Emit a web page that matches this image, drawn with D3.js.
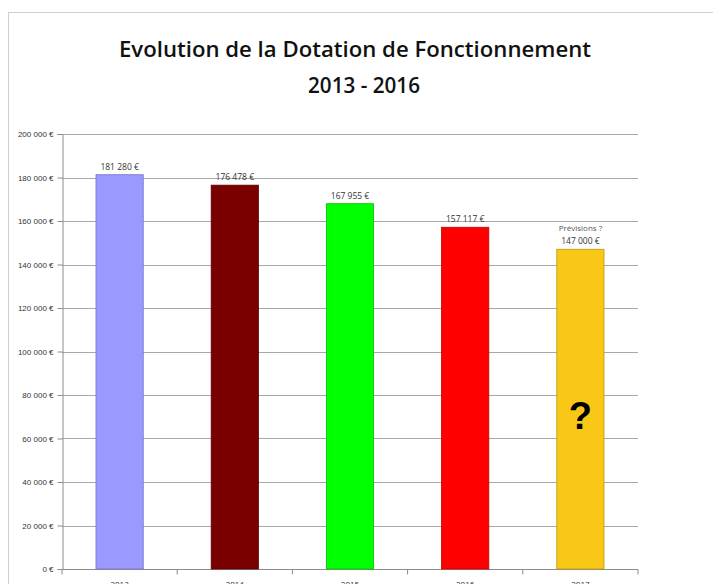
<!DOCTYPE html>
<html>
<head>
<meta charset="utf-8">
<script src="https://cdn.jsdelivr.net/npm/d3@7"></script>
<style>
  body { margin: 0; background: #fff; }
  svg { display: block; font-family: "Open Sans", sans-serif; }
</style>
</head>
<body>
<svg id="chart" width="713" height="584"></svg>
<script>
const years = ['2013', '2014', '2015', '2016', '2017'];
const values = [181280, 176478, 167955, 157117, 147000];
const colors = ['#9999ff', '#7a0000', '#00ff00', '#ff0000', '#f9c817'];
const yTicks = [0, 20000, 40000, 60000, 80000, 100000, 120000, 140000, 160000, 180000, 200000];

const fr = d3.formatLocale({ decimal: ',', thousands: '\u00a0', grouping: [3], currency: ['', '\u00a0€'] });
const euro = fr.format('$,');

const svg = d3.select('#chart');
const plot = { left: 62, right: 638, top: 134, bottom: 569 };

// frame around the chart
svg.append('rect')
  .attr('x', 8.5).attr('y', 12.5)
  .attr('width', 760).attr('height', 640)
  .attr('fill', 'none')
  .attr('stroke', '#cfcfcf');

svg.append('text')
  .attr('x', 355).attr('y', 57)
  .attr('text-anchor', 'middle')
  .attr('font-size', 21).attr('font-weight', 600)
  .attr('textLength', 472).attr('lengthAdjust', 'spacingAndGlyphs')
  .attr('fill', '#111')
  .text('Evolution de la Dotation de Fonctionnement');

svg.append('text')
  .attr('x', 364).attr('y', 93)
  .attr('text-anchor', 'middle')
  .attr('font-size', 21).attr('font-weight', 600)
  .attr('textLength', 112).attr('lengthAdjust', 'spacingAndGlyphs')
  .attr('fill', '#111')
  .text('2013 - 2016');

const x = d3.scaleBand()
  .domain(years)
  .range([plot.left, plot.right])
  .paddingInner(0.59)
  .paddingOuter(0.295);

const y = d3.scaleLinear()
  .domain([0, 200000])
  .range([plot.bottom, plot.top]);

// gridlines
svg.append('g')
  .selectAll('line')
  .data(yTicks.slice(1))
  .join('line')
  .attr('x1', plot.left).attr('x2', plot.right)
  .attr('y1', d => Math.round(y(d)) + 0.5).attr('y2', d => Math.round(y(d)) + 0.5)
  .attr('stroke', '#a8a8a8');

// y axis
const yAxis = svg.append('g')
  .attr('transform', `translate(${plot.left + 0.5},0)`)
  .call(d3.axisLeft(y).tickValues(yTicks).tickFormat(euro).tickSize(5).tickPadding(4));
yAxis.select('.domain').attr('stroke', '#8c8c8c');
yAxis.selectAll('.tick line').attr('stroke', '#8c8c8c');
yAxis.selectAll('text').attr('font-size', 8).attr('fill', '#333');

// x axis with ticks between categories
const xAxis = svg.append('g')
  .attr('transform', `translate(0,${plot.bottom + 0.5})`);
xAxis.append('line')
  .attr('x1', plot.left).attr('x2', plot.right)
  .attr('stroke', '#8c8c8c');
const step = x.step();
xAxis.selectAll('.sep')
  .data(d3.range(years.length + 1))
  .join('line')
  .attr('class', 'sep')
  .attr('x1', i => plot.left + i * step).attr('x2', i => plot.left + i * step)
  .attr('y1', 0).attr('y2', 5)
  .attr('stroke', '#8c8c8c');
xAxis.selectAll('text')
  .data(years)
  .join('text')
  .attr('x', d => x(d) + x.bandwidth() / 2)
  .attr('y', 17)
  .attr('text-anchor', 'middle')
  .attr('font-size', 8)
  .attr('fill', '#333')
  .text(d => d);

// bars
svg.append('g')
  .selectAll('rect')
  .data(years)
  .join('rect')
  .attr('x', d => x(d))
  .attr('y', (d, i) => y(values[i]))
  .attr('width', x.bandwidth())
  .attr('height', (d, i) => y(0) - y(values[i]))
  .attr('fill', (d, i) => colors[i])
  .attr('stroke', (d, i) => d3.color(colors[i]).darker(0.8))
  .attr('stroke-width', 0.8);

// value labels
svg.append('g')
  .selectAll('text')
  .data(years)
  .join('text')
  .attr('x', d => x(d) + x.bandwidth() / 2)
  .attr('y', (d, i) => y(values[i]) - 5)
  .attr('text-anchor', 'middle')
  .attr('font-size', 8.5)
  .attr('fill', '#333')
  .text((d, i) => euro(values[i]));

const last = years[years.length - 1];
svg.append('text')
  .attr('x', x(last) + x.bandwidth() / 2)
  .attr('y', y(values[values.length - 1]) - 18)
  .attr('text-anchor', 'middle')
  .attr('font-size', 8)
  .attr('fill', '#555')
  .text('Prévisions ?');

svg.append('text')
  .attr('x', x(last) + x.bandwidth() / 2)
  .attr('y', y(70000) + 12)
  .attr('text-anchor', 'middle')
  .attr('font-size', 38)
  .attr('font-weight', 700)
  .attr('font-family', '"Liberation Sans", sans-serif')
  .attr('fill', '#000')
  .text('?');
</script>
</body>
</html>
